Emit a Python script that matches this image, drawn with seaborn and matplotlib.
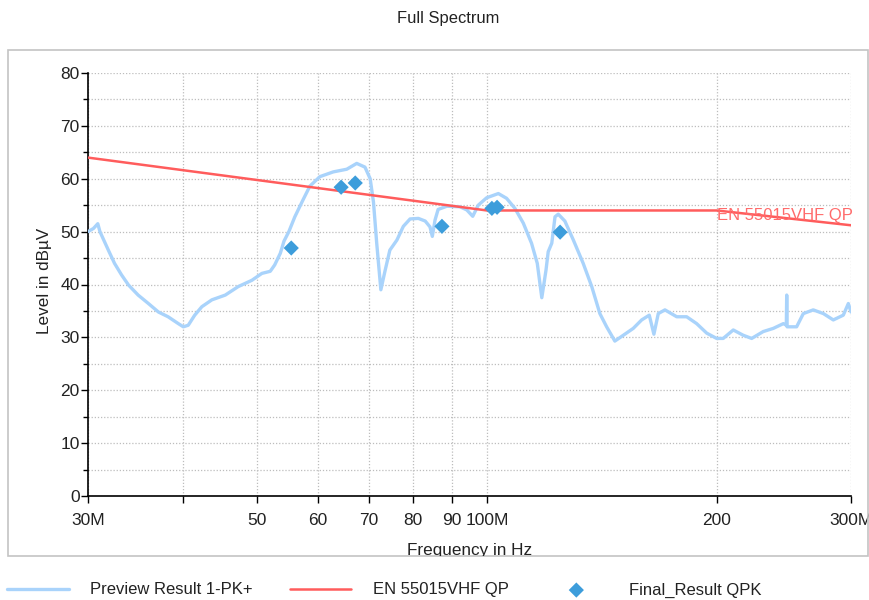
import matplotlib
matplotlib.use("Agg")
import matplotlib.pyplot as plt
import seaborn as sns
import pandas as pd
from matplotlib.patches import Rectangle
from matplotlib.ticker import FixedLocator, FixedFormatter, MultipleLocator, NullLocator

# ---------------- data ----------------
preview_freq = [30.0, 30.5, 30.9, 31.1, 31.9, 32.5, 33.2, 33.9, 34.9, 36.0, 37.1, 38.2, 39.4, 40.0,
                40.6, 41.4, 42.3, 43.6, 45.4, 47.2, 49.2, 50.7, 52.0, 52.7, 53.6, 54.2, 55.0, 56.0,
                57.4, 58.6, 60.4, 62.9, 65.5, 67.5, 69.2, 70.3, 71.0, 71.7, 72.6, 73.5, 74.6, 76.2,
                77.7, 79.3, 81.3, 83.0, 84.2, 84.8, 85.5, 86.3, 88.6, 92.2, 94.1, 95.8, 97.4, 99.9,
                103.5, 106.1, 108.8, 111.6, 114.4, 116.4, 118.0, 119.5, 120.3, 121.6, 122.8, 124.0,
                126.5, 129.8, 133.7, 137.2, 140.6, 143.5, 147.1, 150.9, 155.5, 159.5, 163.2, 165.5,
                167.7, 171.1, 177.3, 182.7, 188.3, 194.1, 200.0, 204.0, 210.3, 216.7, 222.3, 230.2,
                237.3, 244.6, 246.8, 247.1, 247.4, 254.6, 259.8, 267.7, 276.0, 284.4, 293.1, 297.6,
                300.0]
preview_level = [50.0, 50.6, 51.5, 50.0, 46.5, 44.0, 41.8, 39.9, 38.0, 36.4, 34.8, 33.9, 32.6, 32.0,
                 32.3, 34.2, 35.8, 37.1, 38.0, 39.6, 40.8, 42.1, 42.5, 43.7, 45.9, 48.2, 50.0, 52.8,
                 56.0, 58.6, 60.4, 61.3, 61.8, 62.9, 62.2, 60.0, 55.6, 47.8, 39.0, 42.5, 46.5, 48.4,
                 51.0, 52.4, 52.5, 52.0, 50.9, 49.1, 52.2, 54.2, 54.8, 54.7, 54.1, 52.9, 55.0, 56.4,
                 57.2, 56.3, 54.4, 51.6, 47.8, 44.0, 37.5, 42.7, 46.2, 47.8, 52.8, 53.3,
                 52.0, 48.4, 44.0, 39.6, 34.5, 32.0, 29.3, 30.4, 31.7, 33.3, 34.2, 30.6,
                 34.5, 35.2, 33.9, 33.9, 32.6, 30.8, 29.8, 29.8, 31.4, 30.4, 29.8, 31.1,
                 31.7, 32.6, 32.3, 38.0, 32.0, 32.0, 34.5, 35.2, 34.5, 33.3, 34.2, 36.4,
                 34.8]

limit_freq = [30.0, 100.0, 200.0, 300.0]
limit_level = [64.0, 54.0, 54.0, 51.2]

qpk_freq = [55.4, 64.4, 67.2, 87.3, 101.5, 103.1, 124.7]
qpk_level = [46.9, 58.4, 59.2, 51.0, 54.4, 54.6, 49.9]

x_ticks = [30, 40, 50, 60, 70, 80, 90, 100, 200, 300]
x_tick_labels = ["30M", "", "50", "60", "70", "80", "90", "100M", "200", "300M"]

series_names = ["Preview Result 1-PK+", "EN 55015VHF QP", "Final_Result QPK"]

# ---------------- style ----------------
sns.set_theme(style="white")
plt.rcParams['font.family'] = ['Liberation Sans', 'DejaVu Sans']

W, H = 870, 600
fig = plt.figure(figsize=(W / 100, H / 100), dpi=100)
ax = fig.add_axes([88 / W, 104 / H, 763 / W, 423 / H])

# outer frame
frame = Rectangle((8 / W, 44 / H), 860 / W, 506 / H, transform=fig.transFigure,
                  fill=False, ec="#c4c4c4", lw=1.2)
fig.add_artist(frame)

df_prev = pd.DataFrame({"f": preview_freq, "L": preview_level})
df_lim = pd.DataFrame({"f": limit_freq, "L": limit_level})
df_qpk = pd.DataFrame({"f": qpk_freq, "L": qpk_level})

sns.lineplot(data=df_prev, x="f", y="L", ax=ax, color="#a9d3fb", lw=2.4,
             estimator=None, sort=False, label=series_names[0], zorder=3)
sns.lineplot(data=df_lim, x="f", y="L", ax=ax, color="#ff5c5c", lw=1.8,
             estimator=None, sort=False, label=series_names[1], zorder=4)
sns.scatterplot(data=df_qpk, x="f", y="L", ax=ax, marker="D", s=60, color="#3d9ddb",
                edgecolor="none", label=series_names[2], zorder=5)

ax.set_xscale("log")
ax.set_xlim(30, 300)
ax.set_ylim(0, 80)
ax.xaxis.set_major_locator(FixedLocator(x_ticks))
ax.xaxis.set_major_formatter(FixedFormatter(x_tick_labels))
ax.xaxis.set_minor_locator(NullLocator())
ax.yaxis.set_major_locator(MultipleLocator(10))
ax.yaxis.set_minor_locator(MultipleLocator(5))

ax.grid(True, which="major", axis="x", ls=(0, (1, 1.5)), color="#bdbdbd", lw=0.9)
ax.grid(True, which="both", axis="y", ls=(0, (1, 1.5)), color="#bdbdbd", lw=0.9)
ax.set_axisbelow(True)

for s in ["top", "right"]:
    ax.spines[s].set_visible(False)
for s in ["left", "bottom"]:
    ax.spines[s].set_color("black")
    ax.spines[s].set_linewidth(1.2)

ax.tick_params(axis="x", which="major", direction="out", length=5, width=1, color="black",
               labelsize=12.5, pad=7, labelcolor="#222222", bottom=True)
ax.tick_params(axis="y", which="major", direction="out", length=5, width=1, color="black",
               labelsize=12.5, pad=1, labelcolor="#222222", left=True)
ax.tick_params(axis="y", which="minor", direction="out", length=3.5, width=1, color="black", left=True)

ax.set_xlabel("")
ax.set_ylabel("")

ax.text(200, 53.1, series_names[1], color="#ff6b6b", fontsize=12, ha="left", va="center",
        zorder=6, clip_on=False)

fig.text(448 / W, 1 - 19 / H, "Full Spectrum", ha="center", va="center", fontsize=11.9,
         color="#222222")
fig.text(45 / W, 1 - 281 / H, "Level in dBµV", ha="center", va="center", rotation=90,
         fontsize=12.3, color="#222222")
xl = fig.text(470 / W, 1 - 550 / H, "Frequency in Hz", ha="center", va="center", fontsize=12.3,
              color="#222222")
xl.set_clip_path(frame)

handles, labels = ax.get_legend_handles_labels()
if ax.get_legend() is not None:
    ax.get_legend().remove()
leg = fig.legend(handles, labels, loc="center left", bbox_to_anchor=(7 / W, 1 - 590 / H),
                 ncol=3, frameon=False, handlelength=3.7, handletextpad=1.3,
                 columnspacing=2.2, fontsize=12, borderaxespad=0, borderpad=0)
for t in leg.get_texts():
    t.set_color("#222222")

fig.savefig("out.png", dpi=100)
